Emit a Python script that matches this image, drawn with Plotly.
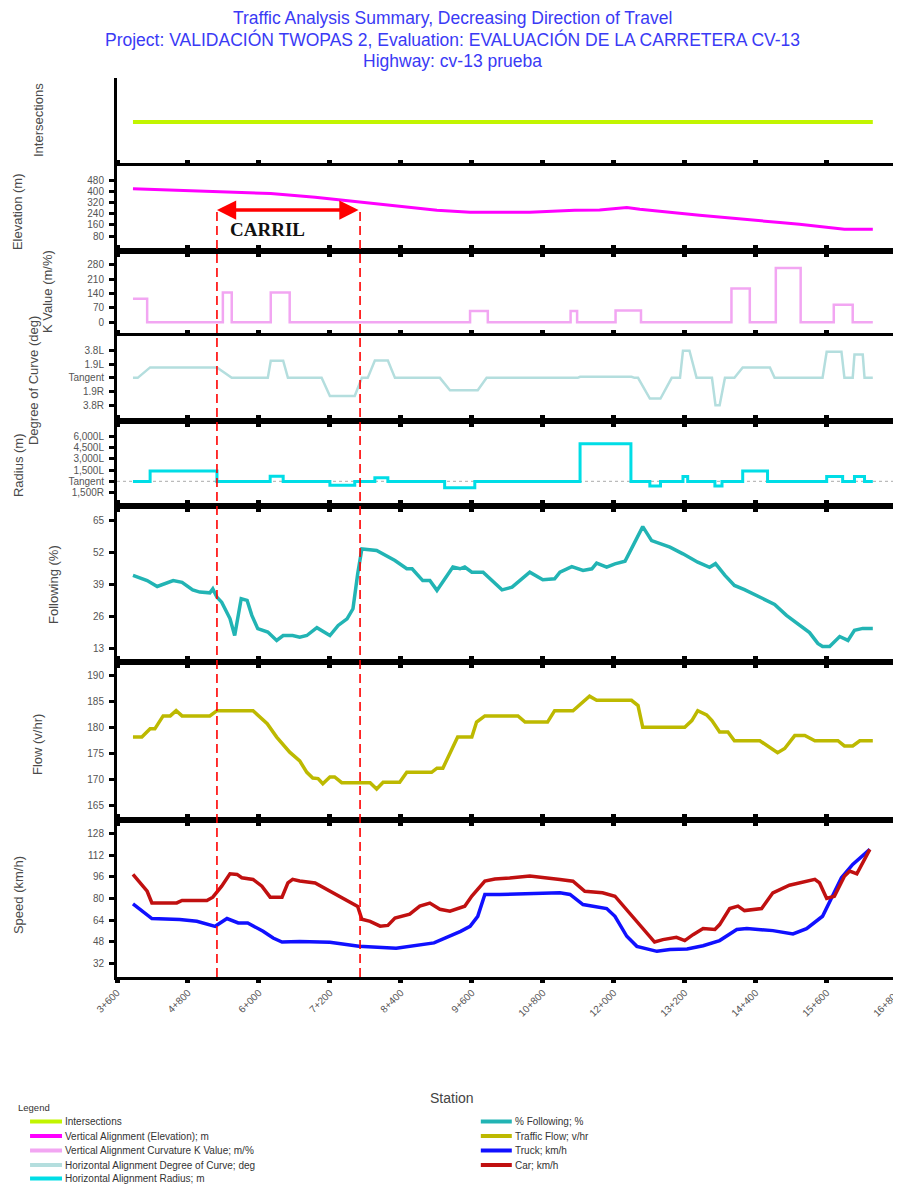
import plotly.graph_objects as go
from plotly.subplots import make_subplots

# ---------------- data (station in metres) ----------------
station_ticks = [3600, 4800, 6000, 7200, 8400, 9600, 10800, 12000, 13200, 14400, 15600, 16800]
station_labels = ["3+600", "4+800", "6+000", "7+200", "8+400", "9+600", "10+800",
                  "12+000", "13+200", "14+400", "15+600", "16+800"]

inter_st = [3870, 16380]
inter_val = [0, 0]

elev_st = [3870, 5290, 6200, 6950, 7710, 8380, 9010, 9570, 10580, 11340, 11760, 12220,
           12440, 13450, 14130, 14810, 15140, 15900, 16380]
elev_val = [418, 395, 383, 357, 321, 293, 264, 250, 250, 264, 266, 284,
            271, 229, 200, 176, 164, 129, 129]

k_st = [3870, 4110, 5390, 5540, 6200, 6520, 9570, 9870, 11270, 11380, 12030, 12460,
        13990, 14300, 14740, 15160, 15720, 16040, 16380]
k_val = [115, 0, 145, 0, 145, 0, 55, 0, 55, 0, 58, 0, 165, 0, 265, 0, 85, 0, 0]

doc_st = [3870, 3950, 4160, 5290, 5540, 6150, 6200, 6410, 6490, 7060, 7200, 7620, 7740,
          7840, 7960, 8180, 8300, 9060, 9230, 9700, 9850, 11390, 11430, 12300, 12350,
          12410, 12610, 12790, 12980, 13120, 13170, 13280, 13400, 13660, 13720, 13790,
          13880, 14040, 14180, 14640, 14720, 15530, 15600, 15850, 15900, 16040, 16070,
          16210, 16240, 16380]
doc_val = [0, 0, 1.44, 1.44, 0, 0, 2.35, 2.35, 0, 0, -2.5, -2.5, 0,
           0, 2.4, 2.4, 0, 0, -1.7, -1.7, 0, 0, 0.15, 0.15, 0,
           0, -2.85, -2.85, 0, 0, 3.73, 3.73, 0, 0, -3.77, -3.77,
           0, 0, 1.44, 1.44, 0, 0, 3.6, 3.6, 0, 0, 3.2,
           3.2, 0, 0]

rad_st = [3870, 4160, 5290, 6190, 6410, 7200, 7620, 7960, 8180, 9140, 9650, 11430,
          12290, 12610, 12790, 13170, 13250, 13710, 13830, 14180, 14600, 15600, 15870,
          16070, 16240, 16380]
rad_val = [0, 1400, 0, 700, 0, -500, 0, 500, 0, -850, 0, 4990,
           0, -600, 0, 660, 0, -600, 0, 1400, 0, 660, 0,
           660, 0, 0]

fol_st = [3870, 3990, 4110, 4280, 4410, 4550, 4700, 4880, 5000, 5170, 5220, 5290, 5370,
          5510, 5590, 5700, 5800, 5880, 5980, 6150, 6300, 6410, 6570, 6690, 6810, 6980,
          7200, 7340, 7490, 7590, 7670, 7740, 7990, 8300, 8500, 8590, 8770, 8890, 9010,
          9280, 9400, 9480, 9600, 9790, 10110, 10280, 10580, 10800, 11000, 11090, 11290,
          11480, 11630, 11710, 11880, 12020, 12190, 12490, 12640, 12950, 13170, 13420,
          13620, 13720, 13880, 14040, 14210, 14470, 14720, 14920, 15140, 15310, 15450,
          15530, 15650, 15820, 15960, 16070, 16210, 16380]
fol_val = [42.7, 41.7, 40.6, 38.2, 39.5, 40.6, 39.9, 36.8, 35.9, 35.6, 37.2, 33.8, 31.8,
           25.1, 18.2, 33.2, 32.5, 26.4, 21.0, 19.6, 16.2, 18.2, 18.2, 17.5, 18.2, 21.4,
           18.2, 22.3, 25.0, 29.1, 43.4, 53.5, 52.9, 48.8, 45.4, 45.4, 40.6, 40.6, 36.6,
           46.1, 45.4, 46.1, 44.0, 44.0, 36.8, 37.9, 44.0, 40.9, 41.3, 44.0, 46.3,
           44.7, 45.4, 47.7, 46.1, 47.4, 48.5, 62.6, 56.9, 54.2, 51.5, 48.1,
           46.0, 47.5, 42.7, 38.6, 36.9, 33.7, 30.9, 26.4, 22.3, 19.4, 15.0,
           13.7, 13.7, 17.8, 16.2, 20.3, 21.1, 21.1]

flow_st = [3870, 4020, 4160, 4240, 4380, 4500, 4600, 4700, 5170, 5290, 5900, 6140, 6300,
           6520, 6690, 6810, 6910, 7000, 7080, 7200, 7280, 7400, 7880, 7990, 8100, 8380,
           8500, 8920, 9010, 9110, 9360, 9600, 9680, 9820, 10380, 10500, 10880, 11000,
           11310, 11590, 11710, 12300, 12410, 12490, 13200, 13320, 13420, 13570, 13660,
           13790, 13930, 14040, 14470, 14640, 14770, 14890, 15060, 15230, 15400, 15790,
           15900, 16040, 16160, 16380]
flow_val = [178.2, 178.2, 179.8, 179.8, 182.3, 182.3, 183.3, 182.3, 182.3, 183.3, 183.3,
            180.8, 178.2, 175.3, 173.6, 171.4, 170.3, 170.2, 169.2, 170.5, 170.5, 169.4,
            169.4, 168.2, 169.5, 169.5, 171.4, 171.4, 172.2, 172.2, 178.2, 178.2, 181.1,
            182.3, 182.3, 181.1, 181.1, 183.3, 183.3, 186.1, 185.3, 185.3, 184.3, 180.1,
            180.1, 181.4, 183.3, 182.5, 181.4, 179.2, 179.2, 177.5, 177.5, 176.3, 175.2,
            176.0, 178.5, 178.5, 177.5, 177.5, 176.5, 176.5, 177.5, 177.5]

car_st = [3870, 3990, 4110, 4190, 4610, 4700, 5120, 5220, 5370, 5510, 5630, 5710, 5900,
          6050, 6190, 6390, 6490, 6570, 6690, 6950, 7200, 7450, 7670, 7740, 7880, 8050,
          8180, 8300, 8550, 8720, 8890, 9060, 9230, 9480, 9600, 9820, 9990, 10240, 10580,
          11090, 11310, 11510, 11810, 12020, 12220, 12440, 12570, 12690, 12830, 13060,
          13200, 13340, 13510, 13710, 13790, 13960, 14100, 14210, 14500, 14690, 14970,
          15260, 15400, 15480, 15600, 15730, 15900, 15990, 16110, 16330]
car_val = [97.9, 91.6, 85.4, 76.7, 76.7, 78.5, 78.5, 81.0, 89.2, 98.4, 97.9, 95.4, 94.2,
           89.2, 81.0, 81.0, 91.6, 94.2, 93.0, 91.5, 85.5, 79.5, 74.0, 64.6, 63.0, 59.4,
           60.0, 65.4, 68.3, 74.3, 76.6, 72.0, 70.6, 74.3, 81.8, 93.0, 94.5, 95.2, 96.7,
           94.2, 92.9, 85.4, 84.2, 81.7, 71.8, 60.6, 54.3, 47.6, 49.4, 51.1,
           48.7, 53.1, 57.6, 56.9, 60.6, 72.5, 74.3, 71.0, 72.5, 84.2, 89.9,
           92.9, 94.2, 91.6, 80.0, 81.7, 96.6, 100.4, 98.4, 116.5]

truck_st = [3870, 4020, 4190, 4660, 4950, 5260, 5460, 5650, 5810, 6070, 6240, 6390, 6690,
            7200, 7690, 8320, 8960, 9410, 9570, 9700, 9820, 10070, 11090, 11260, 11480,
            11880, 12020, 12220, 12390, 12730, 12950, 13240, 13510, 13790, 14080, 14250,
            14690, 15030, 15260, 15530, 15680, 15850, 16040, 16330]
truck_val = [76.0, 70.5, 65.1, 64.3, 63.1, 59.3, 65.1, 61.8, 61.8, 55.6, 50.6, 47.6, 48.1,
             47.5, 44.4, 43.0, 47.0, 55.6, 59.3, 66.7, 83.0, 83.0, 84.2, 83.0, 75.5,
             72.5, 66.8, 51.9, 44.4, 40.7, 42.0, 42.4, 44.9, 48.7, 56.9, 57.6,
             56.1, 53.6, 57.6, 66.8, 80.4, 95.4, 105.4, 116.5]

carril_st = [5290, 7710]

# ---------------- layout geometry (page pixels) ----------------
PAGE_W, PAGE_H = 901, 1185
BODY = 8                       # default html body margin
FIG_W, FIG_H = PAGE_W - BODY, PAGE_H - BODY
X_RANGE = [3600, 16806]
PL, PR, PT, PB = 117, 898.4, 78, 977
row_px = [88, 85, 85, 85, 85, 156, 158, 157]


def xp(px):
    return (px - PL) / (PR - PL)


def yp(py):
    return (PB - py) / (PB - PT)


fig = make_subplots(rows=8, cols=1, shared_xaxes=True, vertical_spacing=0,
                    row_heights=[h / sum(row_px) for h in row_px])

series = [
    (1, inter_st, inter_val, "#C2F500", 4, "linear", "Intersections"),
    (2, elev_st, elev_val, "#FF00FF", 3, "linear", "Vertical Alignment (Elevation); m"),
    (3, k_st, k_val, "#F2A6F2", 2.5, "hv", "Vertical Alignment Curvature K Value; m/%"),
    (4, doc_st, doc_val, "#B4DEDE", 2.5, "linear", "Horizontal Alignment Degree of Curve; deg"),
    (5, rad_st, rad_val, "#00DDE6", 3, "hv", "Horizontal Alignment Radius; m"),
    (6, fol_st, fol_val, "#22B4B4", 3.5, "linear", "% Following; %"),
    (7, flow_st, flow_val, "#BDB900", 3.5, "linear", "Traffic Flow; v/hr"),
    (8, truck_st, truck_val, "#1010FF", 3.5, "linear", "Truck; km/h"),
    (8, car_st, car_val, "#C01010", 3.5, "linear", "Car; km/h"),
]
for row, xs, ys, col, w, shape, name in series:
    fig.add_trace(go.Scatter(x=xs, y=ys, mode="lines", name=name, showlegend=False,
                             line=dict(color=col, width=w, shape=shape)),
                  row=row, col=1)

tick_font = dict(family="Liberation Sans, Arial", size=10, color="#555555")
xtick_font = dict(family="Liberation Sans, Arial", size=10, color="#555555")

for r in range(1, 9):
    fig.update_xaxes(row=r, col=1, range=X_RANGE, tickmode="array",
                     tickvals=station_ticks, ticktext=station_labels,
                     showline=True, linecolor="black", linewidth=3,
                     mirror=(False if r == 1 else "ticks"),
                     ticks="outside", ticklen=3, tickwidth=5, tickcolor="black",
                     showgrid=False, zeroline=False, automargin=False,
                     showticklabels=(r == 8), tickangle=-45, tickfont=xtick_font,
                     ticklabeloverflow="allow")

y_cfg = {
    1: dict(range=[-1, 1], tickvals=[], ticktext=[]),
    2: dict(range=[-27, 580], tickvals=[80, 160, 240, 320, 400, 480],
            ticktext=["80", "160", "240", "320", "400", "480"]),
    3: dict(range=[-67, 348], tickvals=[0, 70, 140, 210, 280],
            ticktext=["0", "70", "140", "210", "280"]),
    4: dict(range=[-5.94, 5.76], tickvals=[3.8, 1.9, 0, -1.9, -3.8],
            ticktext=["3.8L", "1.9L", "Tangent", "1.9R", "3.8R"]),
    5: dict(range=[-3260, 8020], tickvals=[6000, 4500, 3000, 1500, 0, -1500],
            ticktext=["6,000L", "4,500L", "3,000L", "1,500L", "Tangent", "1,500R"]),
    6: dict(range=[7.4, 71], tickvals=[13, 26, 39, 52, 65],
            ticktext=["13", "26", "39", "52", "65"]),
    7: dict(range=[162.2, 192.7], tickvals=[165, 170, 175, 180, 185, 190],
            ticktext=["165", "170", "175", "180", "185", "190"]),
    8: dict(range=[21.6, 138.4], tickvals=[32, 48, 64, 80, 96, 112, 128],
            ticktext=["32", "48", "64", "80", "96", "112", "128"]),
}
for r, cfg in y_cfg.items():
    fig.update_yaxes(row=r, col=1, range=cfg["range"], tickmode="array",
                     tickvals=cfg["tickvals"], ticktext=cfg["ticktext"],
                     showline=True, linecolor="black", linewidth=3,
                     ticks=("" if r == 1 else "outside"), ticklen=5, tickwidth=3,
                     tickcolor="black", showgrid=False, zeroline=False,
                     automargin=False, tickfont=tick_font, fixedrange=True,
                     ticklabelstandoff=3)

shapes = []
# dotted tangent reference lines
for yref in ("y4", "y5"):
    shapes.append(dict(type="line", xref="paper", x0=0, x1=1, yref=yref, y0=0, y1=0,
                       line=dict(color="#BBBBBB", width=1.2, dash="dot"), layer="below"))
# red dashed CARRIL limits
for s in carril_st:
    shapes.append(dict(type="line", xref="x", x0=s, x1=s, yref="paper",
                       y0=yp(PB), y1=yp(209), line=dict(color="#FF0000", width=1.6,
                                                        dash="9px,5px")))

annotations = []
# titles
title_font = dict(family="Liberation Sans, Arial", size=17.5, color="#3A3AF5")
for txt, py in [("Traffic Analysis Summary, Decreasing Direction of Travel", 18),
                ("Project: VALIDACIÓN TWOPAS 2, Evaluation: EVALUACIÓN DE LA CARRETERA CV-13", 40),
                ("Highway: cv-13 prueba", 61)]:
    annotations.append(dict(text=txt, xref="paper", yref="paper", x=xp(453), y=yp(py),
                            xanchor="center", yanchor="middle", showarrow=False,
                            font=title_font))

# y-axis titles
ytitle_font = dict(family="Liberation Sans, Arial", size=13, color="#4A4A4A")
for txt, px, py in [("Intersections", 38, 120), ("Elevation (m)", 17, 212),
                    ("K Value (m/%)", 47, 292), ("Degree of Curve (deg)", 33, 381),
                    ("Radius (m)", 18, 465), ("Following (%)", 53, 585),
                    ("Flow (v/hr)", 37, 745), ("Speed (km/h)", 18, 895)]:
    annotations.append(dict(text=txt, xref="paper", yref="paper", x=xp(px), y=yp(py),
                            xanchor="center", yanchor="middle", textangle=-90,
                            showarrow=False, font=ytitle_font))

# CARRIL arrow
annotations.append(dict(text="", x=carril_st[0], y=yp(210), xref="x", yref="paper",
                        ax=carril_st[1], ay=0, axref="x", ayref="pixel",
                        showarrow=True, arrowhead=2, arrowside="end+start",
                        arrowsize=1.1, arrowwidth=3.5, arrowcolor="#FF0000",
                        standoff=0, startstandoff=0))
annotations.append(dict(text="<b>CARRIL</b>", xref="paper", yref="paper", x=xp(268),
                        y=yp(229), xanchor="center", yanchor="middle", showarrow=False,
                        font=dict(family="Liberation Serif, Times New Roman", size=19,
                                  color="#111111")))

# x-axis title
annotations.append(dict(text="Station", xref="paper", yref="paper", x=xp(452),
                        y=yp(1098), xanchor="center", yanchor="middle", showarrow=False,
                        font=dict(family="Liberation Sans, Arial", size=14,
                                  color="#444444")))

# manual legend
leg_font = dict(family="Liberation Sans, Arial", size=10, color="#333333")
annotations.append(dict(text="Legend", xref="paper", yref="paper", x=xp(16), y=yp(1107),
                        xanchor="left", yanchor="middle", showarrow=False,
                        font=dict(family="Liberation Sans, Arial", size=9.5,
                                  color="#333333")))
legend_cols = [
    (30, 62, [0, 1, 2, 3, 4]),
    (481, 512, [5, 6, 7, 8]),
]
rows_py = [1121.5, 1136, 1150.5, 1165, 1178.5]
for x0, x1, idxs in legend_cols:
    for k, idx in enumerate(idxs):
        _, _, _, col, _, _, name = series[idx]
        py = rows_py[k]
        shapes.append(dict(type="line", xref="paper", yref="paper", x0=xp(x0), x1=xp(x1),
                           y0=yp(py), y1=yp(py), line=dict(color=col, width=4)))
        annotations.append(dict(text=name, xref="paper", yref="paper", x=xp(x1 + 1),
                                y=yp(py), xanchor="left", yanchor="middle",
                                showarrow=False, font=leg_font))

fig.update_layout(width=FIG_W, height=FIG_H, autosize=False,
                  margin=dict(l=PL - BODY, r=PAGE_W - PR, t=PT - BODY, b=PAGE_H - PB,
                              pad=0),
                  paper_bgcolor="white", plot_bgcolor="white",
                  showlegend=False, shapes=shapes, annotations=annotations)

fig.write_html("out.html")
